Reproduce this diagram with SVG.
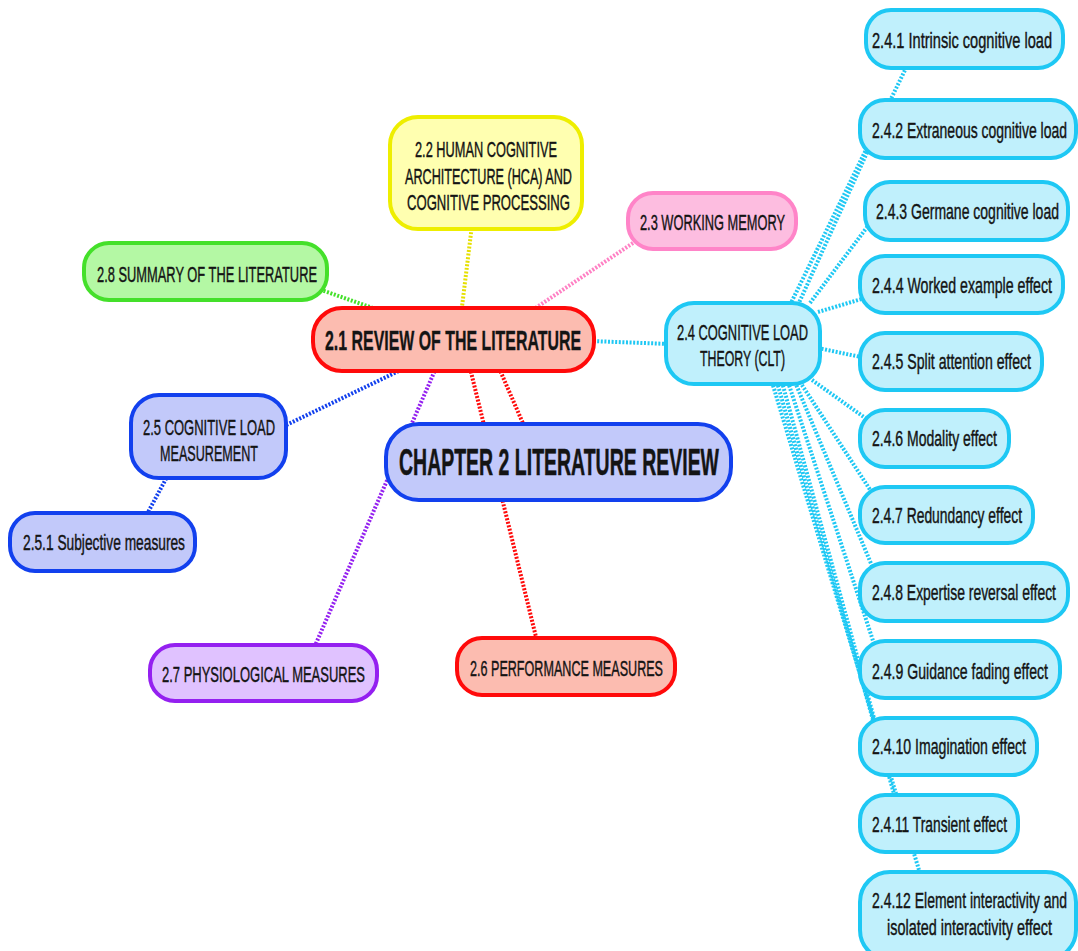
<svg xmlns="http://www.w3.org/2000/svg" width="1078" height="951" viewBox="0 0 1078 951">
  <style>
    text { font-family: "Liberation Sans Narrow", "Liberation Sans", "DejaVu Sans Condensed", sans-serif; fill: #141414; stroke: #141414; stroke-width: 0.35; vector-effect: non-scaling-stroke; font-size: 22px; }
    .big { font-size: 37px; font-weight: bold; stroke-width: 0.4; }
    .mid { font-size: 28.5px; font-weight: bold; stroke-width: 0.3; }
    .c { text-anchor: middle; }
    rect { stroke-width: 4; }
    .con line { stroke-width: 4; stroke-dasharray: 2 1.6; fill: none; }
    .red rect { fill: #fcbcb0; stroke: #ff0a0a; }
    .blu rect { fill: #c2c9fa; stroke: #1240ee; }
    .cy rect { fill: #c0f0fc; stroke: #1ec8f4; }
  </style>

  <!-- connectors -->
  <g id="connectors" class="con">
    <line x1="310" y1="286" x2="390" y2="314" stroke="#44e02a"/>
    <line x1="472" y1="225" x2="461" y2="315" stroke="#e6e000"/>
    <line x1="645" y1="235" x2="525" y2="315" stroke="#ff80c4"/>
    <line x1="590" y1="341" x2="670" y2="344" stroke="#1ec8f4"/>
    <line x1="405" y1="368" x2="280" y2="428" stroke="#1240ee"/>
    <line x1="168" y1="475" x2="146" y2="516" stroke="#1240ee"/>
    <line x1="436" y1="368" x2="314" y2="648" stroke="#9420f0"/>
    <line x1="499" y1="368" x2="525" y2="428" stroke="#ff0a0a"/>
    <line x1="470" y1="368" x2="537" y2="641" stroke="#ff0a0a"/>
    <!-- fan from cognitive load theory -->
    <g stroke="#1ec8f4">
      <line x1="790" y1="305" x2="908" y2="64"/>
      <line x1="798" y1="305" x2="875" y2="135"/>
      <line x1="810" y1="303" x2="880" y2="210"/>
      <line x1="818" y1="312" x2="875" y2="295"/>
      <line x1="818" y1="348" x2="875" y2="360"/>
      <line x1="812" y1="380" x2="875" y2="425"/>
      <line x1="800" y1="382" x2="880" y2="505"/>
      <line x1="795" y1="382" x2="880" y2="585"/>
      <line x1="788" y1="382" x2="880" y2="662"/>
      <line x1="782" y1="382" x2="880" y2="740"/>
      <line x1="777" y1="382" x2="900" y2="815"/>
      <line x1="772" y1="382" x2="925" y2="890"/>
    </g>
  </g>

  <g id="central" class="blu">
    <rect x="386" y="424" width="345" height="76" rx="33"/>
    <text class="big c" transform="translate(559,475) scale(0.5,1)" textLength="640" lengthAdjust="spacingAndGlyphs">CHAPTER 2 LITERATURE REVIEW</text>
  </g>

  <g id="n21" class="red">
    <rect x="313" y="308" width="281" height="63" rx="29"/>
    <text class="mid c" transform="translate(453,350) scale(0.6,1)" textLength="426.7" lengthAdjust="spacingAndGlyphs">2.1 REVIEW OF THE LITERATURE</text>
  </g>

  <g id="n22">
    <rect x="390" y="117" width="192" height="112" rx="28" fill="#ffffb0" stroke="#eeee00"/>
    <text class="c" transform="translate(486,157) scale(0.64,1)" textLength="221.9" lengthAdjust="spacingAndGlyphs">2.2 HUMAN COGNITIVE</text>
    <text class="c" transform="translate(488.5,184) scale(0.64,1)" textLength="260.9" lengthAdjust="spacingAndGlyphs">ARCHITECTURE (HCA) AND</text>
    <text class="c" transform="translate(488.5,210) scale(0.64,1)" textLength="254.7" lengthAdjust="spacingAndGlyphs">COGNITIVE PROCESSING</text>
  </g>

  <g id="n23">
    <rect x="628" y="193" width="168" height="56" rx="25" fill="#fdbde0" stroke="#ff84c8"/>
    <text class="c" transform="translate(712.5,230) scale(0.64,1)" textLength="226.6" lengthAdjust="spacingAndGlyphs">2.3 WORKING MEMORY</text>
  </g>

  <g id="n28">
    <rect x="84" y="243" width="243" height="57" rx="25" fill="#b4f8a4" stroke="#44e02a"/>
    <text class="c" transform="translate(207,282) scale(0.64,1)" textLength="343.8" lengthAdjust="spacingAndGlyphs">2.8 SUMMARY OF THE LITERATURE</text>
  </g>

  <g id="n24" class="cy">
    <rect x="666" y="303" width="154" height="81" rx="28"/>
    <text class="c" transform="translate(742.5,340) scale(0.64,1)" textLength="204.7" lengthAdjust="spacingAndGlyphs">2.4 COGNITIVE LOAD</text>
    <text class="c" transform="translate(742.5,366) scale(0.64,1)" textLength="132.8" lengthAdjust="spacingAndGlyphs">THEORY (CLT)</text>
  </g>

  <g id="n25" class="blu">
    <rect x="131" y="395" width="155" height="83" rx="28"/>
    <text class="c" transform="translate(209,435) scale(0.64,1)" textLength="206.3" lengthAdjust="spacingAndGlyphs">2.5 COGNITIVE LOAD</text>
    <text class="c" transform="translate(209,461) scale(0.64,1)" textLength="153.1" lengthAdjust="spacingAndGlyphs">MEASUREMENT</text>
  </g>

  <g id="n251" class="blu">
    <rect x="10" y="513" width="185" height="58" rx="25"/>
    <text class="c" transform="translate(104,550) scale(0.64,1)" textLength="253.1" lengthAdjust="spacingAndGlyphs">2.5.1 Subjective measures</text>
  </g>

  <g id="n27">
    <rect x="150" y="645" width="227" height="56" rx="25" fill="#e0c2ff" stroke="#9420f0"/>
    <text class="c" transform="translate(263.5,682) scale(0.64,1)" textLength="317.2" lengthAdjust="spacingAndGlyphs">2.7 PHYSIOLOGICAL MEASURES</text>
  </g>

  <g id="n26" class="red">
    <rect x="457" y="638" width="218" height="57" rx="25"/>
    <text class="c" transform="translate(566.5,676) scale(0.64,1)" textLength="301.6" lengthAdjust="spacingAndGlyphs">2.6 PERFORMANCE MEASURES</text>
  </g>

  <!-- cognitive load theory sub-topics -->
  <g id="n241" class="cy">
    <rect x="866" y="10" width="197" height="58" rx="25"/>
    <text transform="translate(872,48) scale(0.64,1)" textLength="281.3" lengthAdjust="spacingAndGlyphs">2.4.1 Intrinsic cognitive load</text>
  </g>
  <g id="n242" class="cy">
    <rect x="860" y="100" width="216" height="58" rx="25"/>
    <text transform="translate(872,138) scale(0.64,1)" textLength="304.7" lengthAdjust="spacingAndGlyphs">2.4.2 Extraneous cognitive load</text>
  </g>
  <g id="n243" class="cy">
    <rect x="865" y="182" width="203" height="58" rx="25"/>
    <text transform="translate(876,219) scale(0.64,1)" textLength="285.9" lengthAdjust="spacingAndGlyphs">2.4.3 Germane cognitive load</text>
  </g>
  <g id="n244" class="cy">
    <rect x="860" y="256" width="203" height="57" rx="25"/>
    <text transform="translate(872,293) scale(0.64,1)" textLength="281.3" lengthAdjust="spacingAndGlyphs">2.4.4 Worked example effect</text>
  </g>
  <g id="n245" class="cy">
    <rect x="860" y="333" width="182" height="57" rx="25"/>
    <text transform="translate(872,369) scale(0.64,1)" textLength="248.4" lengthAdjust="spacingAndGlyphs">2.4.5 Split attention effect</text>
  </g>
  <g id="n246" class="cy">
    <rect x="860" y="410" width="149" height="57" rx="25"/>
    <text transform="translate(872,446) scale(0.64,1)" textLength="195.3" lengthAdjust="spacingAndGlyphs">2.4.6 Modality effect</text>
  </g>
  <g id="n247" class="cy">
    <rect x="860" y="487" width="173" height="56" rx="25"/>
    <text transform="translate(872,523) scale(0.64,1)" textLength="234.4" lengthAdjust="spacingAndGlyphs">2.4.7 Redundancy effect</text>
  </g>
  <g id="n248" class="cy">
    <rect x="860" y="563" width="208" height="58" rx="25"/>
    <text transform="translate(872,600) scale(0.64,1)" textLength="287.5" lengthAdjust="spacingAndGlyphs">2.4.8 Expertise reversal effect</text>
  </g>
  <g id="n249" class="cy">
    <rect x="860" y="641" width="200" height="57" rx="25"/>
    <text transform="translate(872,679) scale(0.64,1)" textLength="275" lengthAdjust="spacingAndGlyphs">2.4.9 Guidance fading effect</text>
  </g>
  <g id="n2410" class="cy">
    <rect x="860" y="718" width="177" height="57" rx="25"/>
    <text transform="translate(872,754) scale(0.64,1)" textLength="240.6" lengthAdjust="spacingAndGlyphs">2.4.10 Imagination effect</text>
  </g>
  <g id="n2411" class="cy">
    <rect x="860" y="795" width="158" height="57" rx="25"/>
    <text transform="translate(872,832) scale(0.64,1)" textLength="210.9" lengthAdjust="spacingAndGlyphs">2.4.11 Transient effect</text>
  </g>
  <g id="n2412" class="cy">
    <rect x="860" y="872" width="216" height="88" rx="30"/>
    <text transform="translate(872,908) scale(0.64,1)" textLength="304.7" lengthAdjust="spacingAndGlyphs">2.4.12 Element interactivity and</text>
    <text transform="translate(887,935) scale(0.64,1)" textLength="257.8" lengthAdjust="spacingAndGlyphs">isolated interactivity effect</text>
  </g>
</svg>
